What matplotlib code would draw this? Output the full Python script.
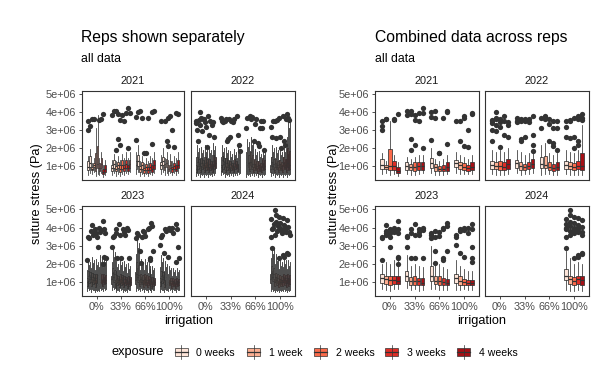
import numpy as np
import matplotlib.pyplot as plt
from matplotlib.patches import Rectangle

plt.rcParams['font.family'] = ['Liberation Sans', 'DejaVu Sans']

years = ['2021', '2022', '2023', '2024']
irrigation = ['0%', '33%', '66%', '100%']
exposure = ['0 weeks', '1 week', '2 weeks', '3 weeks', '4 weeks']
fills = ['#FEE5D9', '#FCAE91', '#FB6A4A', '#DE2D26', '#A50F15']
yticks = [1e6, 2e6, 3e6, 4e6, 5e6]
ytick_labels = ['1e+06', '2e+06', '3e+06', '4e+06', '5e+06']

# box summaries in 1e6 Pa, per irrigation then per exposure: [q1, median, q3, whisker low, whisker high]
box_2021 = [
    [[0.85, 1.05, 1.40, 0.55, 1.75], [0.85, 0.95, 1.05, 0.60, 1.30], [0.80, 1.00, 1.95, 0.50, 3.50],
     [0.80, 1.00, 1.30, 0.55, 1.60], [0.60, 0.75, 0.95, 0.45, 1.20]],
    [[0.80, 1.00, 1.20, 0.55, 1.50], [0.80, 0.95, 1.10, 0.50, 1.40], [0.75, 0.95, 1.20, 0.50, 1.50],
     [0.80, 1.00, 1.20, 0.55, 1.60], [0.80, 1.00, 1.20, 0.60, 1.60]],
    [[0.90, 1.15, 1.45, 0.60, 2.00], [0.75, 0.95, 1.10, 0.50, 1.40], [0.70, 0.85, 1.00, 0.50, 1.30],
     [0.70, 0.85, 1.05, 0.50, 1.40], [0.75, 0.95, 1.20, 0.55, 1.60]],
    [[0.95, 1.15, 1.35, 0.60, 1.80], [0.85, 1.05, 1.25, 0.55, 1.60], [0.80, 0.95, 1.15, 0.55, 1.50],
     [0.75, 0.90, 1.05, 0.55, 1.40], [0.80, 0.95, 1.20, 0.55, 1.60]],
]
box_2022 = [
    [[0.85, 1.05, 1.30, 0.55, 1.90], [0.85, 1.00, 1.25, 0.50, 1.80], [0.80, 1.00, 1.30, 0.50, 1.90],
     [0.80, 0.95, 1.20, 0.50, 1.80], [0.85, 1.10, 1.40, 0.55, 2.00]],
    [[0.90, 1.15, 1.35, 0.60, 1.90], [0.80, 1.00, 1.25, 0.50, 1.80], [0.80, 0.95, 1.10, 0.55, 1.60],
     [0.85, 1.00, 1.20, 0.55, 1.70], [0.90, 1.10, 1.40, 0.60, 1.80]],
    [[0.90, 1.10, 1.50, 0.50, 2.20], [0.90, 1.05, 1.55, 0.55, 2.30], [0.80, 0.95, 1.20, 0.55, 1.70],
     [0.75, 0.90, 1.10, 0.50, 1.60], [0.80, 0.95, 1.25, 0.50, 1.70]],
    [[0.85, 1.05, 1.30, 0.55, 1.90], [0.85, 1.00, 1.20, 0.50, 1.80], [0.80, 0.95, 1.15, 0.50, 1.70],
     [0.85, 1.00, 1.30, 0.50, 1.90], [0.80, 1.00, 1.75, 0.50, 3.30]],
]
box_2023 = [
    [[0.95, 1.20, 1.45, 0.60, 2.00], [0.90, 1.15, 1.35, 0.55, 2.10], [0.85, 1.10, 1.30, 0.50, 2.00],
     [0.90, 1.10, 1.35, 0.60, 2.20], [0.90, 1.05, 1.30, 0.60, 2.20]],
    [[1.05, 1.35, 1.60, 0.65, 2.50], [0.85, 1.05, 1.25, 0.55, 1.90], [0.85, 1.05, 1.30, 0.60, 2.00],
     [0.85, 1.05, 1.20, 0.50, 1.90], [0.80, 0.95, 1.20, 0.55, 1.80]],
    [[1.05, 1.30, 1.85, 0.60, 3.00], [0.90, 1.05, 1.30, 0.60, 2.00], [0.85, 1.05, 1.30, 0.55, 2.00],
     [0.85, 1.00, 1.20, 0.55, 1.80], [0.80, 0.95, 1.15, 0.55, 1.70]],
    [[0.95, 1.20, 1.45, 0.55, 2.20], [0.85, 1.05, 1.30, 0.55, 1.90], [0.85, 1.00, 1.15, 0.60, 1.70],
     [0.80, 0.95, 1.10, 0.55, 1.60], [0.80, 0.95, 1.10, 0.55, 1.60]],
]
box_2024 = [
    None, None, None,
    [[1.10, 1.35, 1.70, 0.55, 2.70], [0.90, 1.15, 1.35, 0.50, 2.30], [0.85, 1.05, 1.25, 0.50, 2.00],
     [0.90, 1.15, 1.30, 0.55, 2.10], [0.85, 1.10, 1.30, 0.50, 2.00]],
]

# outliers in 1e6 Pa, per irrigation then per exposure
out_2021 = [
    [[3.00, 3.25, 3.50], [3.60, 3.65], [], [3.55, 3.60], [3.90]],
    [[3.85, 4.05], [4.10, 3.90, 1.90, 2.50], [3.55, 3.85, 2.20], [3.50, 3.95], [4.25, 3.95, 2.00]],
    [[2.45, 4.00, 3.75], [4.10, 3.70], [1.70, 1.75], [3.70], [4.00, 4.05, 2.25]],
    [[3.50], [3.50, 2.40], [3.70, 3.80, 2.10], [3.00, 2.05], [3.95, 3.90]],
]
out_2022 = [
    [[3.50, 3.00, 2.40, 3.55, 3.40], [4.00, 3.70, 2.95, 3.60, 3.30], [3.60, 3.45, 3.20, 2.05],
     [3.80, 2.75, 3.50], [3.30, 3.45, 2.60]],
    [[3.70, 3.50, 3.45], [3.50, 3.60, 2.40, 2.50], [3.60, 2.60, 3.50], [3.45, 3.65],
     [3.80, 2.75, 2.15, 1.85]],
    [[3.10, 3.70], [3.80, 3.60, 3.75], [2.40, 3.35, 3.60], [2.30, 2.10, 3.10, 3.50], [3.10, 3.50, 1.90]],
    [[3.20, 2.60, 3.50], [3.50, 2.55, 3.55], [3.70, 2.60, 2.00], [3.80, 2.40, 2.20, 3.60],
     [3.90, 3.70, 3.55]],
]
out_2023 = [
    [[2.20, 3.50, 3.40], [3.80, 4.15, 3.60, 3.70], [3.90, 3.70, 3.50, 2.90], [4.00, 3.75, 3.85],
     [4.35, 3.90, 3.70, 2.30, 2.00, 2.40]],
    [[2.95, 3.50, 3.55], [3.70, 3.90, 2.30], [4.20, 3.60, 2.30], [3.90, 3.75, 3.60], [4.00, 3.85, 2.30]],
    [[3.40, 3.70, 3.60], [2.70, 2.05, 3.50, 3.80], [3.75, 3.55], [3.90, 4.00, 2.20, 2.30],
     [4.25, 4.10, 2.70]],
    [[3.05, 3.50, 3.60], [2.60, 3.90, 3.80], [2.40, 4.00, 3.85], [3.95, 3.70], [4.20, 3.90, 2.90, 2.30, 2.10]],
]
out_2024 = [
    None, None, None,
    [[3.50, 3.90, 4.00, 4.20, 4.45, 2.85], [4.95, 4.70, 3.80, 4.10, 3.60, 4.30],
     [4.60, 4.00, 3.85, 3.70, 2.30, 4.25], [4.50, 4.15, 3.95, 3.75, 2.50, 2.40, 3.90],
     [4.40, 4.05, 3.75, 3.60, 2.60, 2.55]],
]

# rough relative level of each rep against the pooled box
rep_2021 = [0.90, 1.10]
rep_2022 = [0.80, 1.15, 0.95, 1.06]
rep_2023 = [0.84, 1.12, 0.96, 1.05]
rep_2024 = [0.86, 1.10, 0.94, 1.05]

boxes = {'2021': box_2021, '2022': box_2022, '2023': box_2023, '2024': box_2024}
outs = {'2021': out_2021, '2022': out_2022, '2023': out_2023, '2024': out_2024}
reps = {'2021': rep_2021, '2022': rep_2022, '2023': rep_2023, '2024': rep_2024}

W, H = 602, 371
fig = plt.figure(figsize=(W / 100, H / 100), dpi=100)
edge = '#333333'
txt = '#4D4D4D'
group_w = 0.8


def px_axes(x0, y0, x1, y1):
    return fig.add_axes([x0 / W, 1 - y1 / H, (x1 - x0) / W, (y1 - y0) / H])


def draw_panel(ax, year, split):
    stats = boxes[year]
    scale = reps[year] if split else [1.0]
    nr = len(scale)
    slot = group_w / (len(exposure) * nr)
    lw = 0.62 if split and nr > 2 else 0.55
    for gi in range(len(irrigation)):
        if stats[gi] is None:
            continue
        for ei in range(len(exposure)):
            q1, med, q3, lo, hi = stats[gi][ei]
            fl = outs[year][gi][ei]
            for ri, f in enumerate(scale):
                s = ei * nr + ri
                x = gi + 1 - group_w / 2 + (s + 0.5) * slot
                st = dict(q1=q1 * f * 1e6, med=med * f * 1e6, q3=q3 * f * 1e6,
                          whislo=lo * f * 1e6, whishi=hi * f * 1e6,
                          fliers=np.array(fl[ri::nr]) * 1e6)
                ax.bxp([st], positions=[x], widths=slot * 0.9, patch_artist=True,
                       showcaps=False, manage_ticks=False,
                       boxprops=dict(facecolor=fills[ei], edgecolor=edge, linewidth=lw),
                       medianprops=dict(color=edge, linewidth=0.9),
                       whiskerprops=dict(color=edge, linewidth=lw),
                       flierprops=dict(marker='o', markerfacecolor=edge, markeredgecolor='none',
                                       markersize=3.8))
    ax.set_xlim(0.4, 4.6)
    ax.set_ylim(0.22e6, 5.19e6)
    for sp in ax.spines.values():
        sp.set_color(edge)
        sp.set_linewidth(0.8)
    ax.tick_params(length=2.4, width=0.6, color=edge, labelsize=7.8, labelcolor=txt, pad=2.0)


rows = [(91, 180), (206, 296)]
groups = [([(82, 184), (191, 295)], True, 81, 'Reps shown separately', 37),
          ([(375, 479), (485, 589)], False, 375, 'Combined data across reps', 334)]

for cols, split, tx, title, ylab_x in groups:
    for k, year in enumerate(years):
        r, c = divmod(k, 2)
        x0, x1 = cols[c]
        y0, y1 = rows[r]
        ax = px_axes(x0, y0, x1, y1)
        draw_panel(ax, year, split)
        if c == 0:
            ax.set_yticks(yticks)
            ax.set_yticklabels(ytick_labels)
        else:
            ax.set_yticks([])
        if r == 1:
            ax.set_xticks(range(1, 5))
            ax.set_xticklabels(irrigation)
        else:
            ax.set_xticks([])
        fig.text((x0 + x1) / 2 / W, 1 - (y0 - 10) / H, year, ha='center', va='center',
                 fontsize=7.9, color='#1A1A1A')
    fig.text(tx / W, 1 - 42 / H, title, fontsize=11.3, va='baseline', color='black')
    fig.text(tx / W, 1 - 62 / H, 'all data', fontsize=8.8, va='baseline', color='black')
    fig.text(ylab_x / W, 1 - 193.5 / H, 'suture stress (Pa)', rotation=90, ha='center',
             va='center', fontsize=9.2, color='black')
    fig.text((cols[0][0] + cols[1][1]) / 2 / W, 1 - 321 / H, 'irrigation', ha='center',
             va='center', fontsize=9.2, color='black')

# legend along the bottom
lg = fig.add_axes([0, 0, 1, 1])
lg.set_xlim(0, W)
lg.set_ylim(H, 0)
lg.axis('off')
lg.text(112, 355.5, 'exposure', fontsize=9.2, va='baseline', color='black')
key_x = [181, 253.5, 320, 391.7, 463.5]
for kx, lab, col in zip(key_x, exposure, fills):
    lg.plot([kx, kx], [344.5, 358.5], color=edge, lw=0.5)
    lg.add_patch(Rectangle((kx - 6.5, 348), 13, 7.5, facecolor=col, edgecolor=edge, lw=0.5))
    lg.plot([kx - 6.5, kx + 6.5], [351.75, 351.75], color=edge, lw=0.9)
    lg.text(kx + 15.5, 355.5, lab, fontsize=7.6, va='baseline', color='black')

fig.savefig('out.png', dpi=100)
